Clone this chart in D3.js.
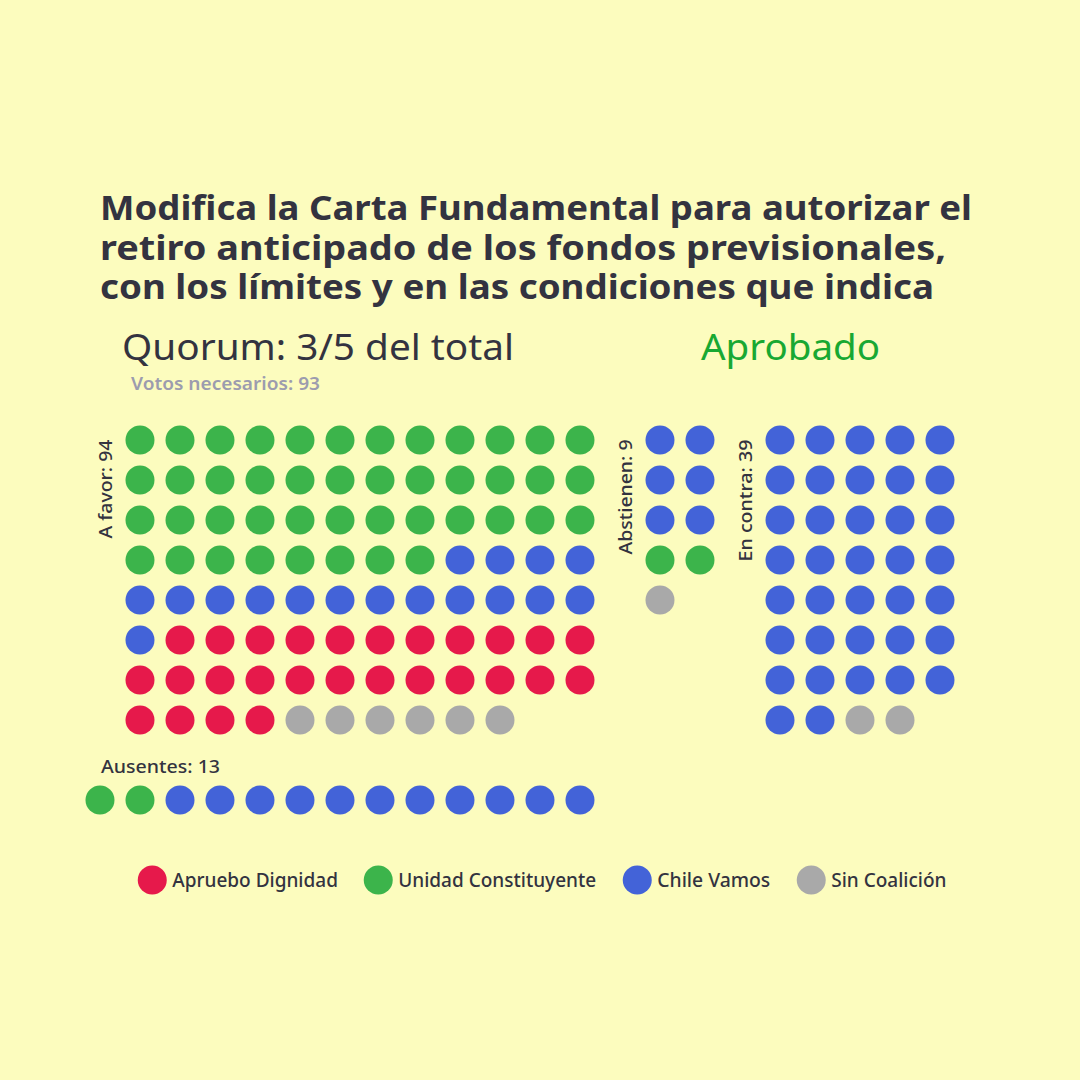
<!DOCTYPE html>
<html>
<head>
<meta charset="utf-8">
<script src="https://cdn.jsdelivr.net/npm/d3@7"></script>
<style>
  html, body { margin: 0; padding: 0; background: #fcfcbe; }
  svg { display: block; }
  text { font-family: "Noto Sans", "Open Sans", sans-serif; }
</style>
</head>
<body>
<svg id="chart" width="1080" height="1080"></svg>
<script>
// ---------------- DATA ----------------
const titleLines = [
  "Modifica la Carta Fundamental para autorizar el",
  "retiro anticipado de los fondos previsionales,",
  "con los límites y en las condiciones que indica"
];
const quorumText = "Quorum: 3/5 del total";
const resultText = "Aprobado";
const votesNeededText = "Votos necesarios: 93";

const parties = ["Apruebo Dignidad", "Unidad Constituyente", "Chile Vamos", "Sin Coalición"];
const partyColors = ["#e6194b", "#3cb44b", "#4363d8", "#a9a9a9"];

const groupNames = ["A favor", "Abstienen", "En contra", "Ausentes"];
const groupTotals = [94, 9, 39, 13];

// order of deputies within each group (party, count)
const aFavorParties = ["Unidad Constituyente", "Chile Vamos", "Apruebo Dignidad", "Sin Coalición"];
const aFavorCounts = [44, 17, 27, 6];
const abstienenParties = ["Chile Vamos", "Unidad Constituyente", "Sin Coalición"];
const abstienenCounts = [6, 2, 1];
const enContraParties = ["Chile Vamos", "Sin Coalición"];
const enContraCounts = [37, 2];
const ausentesParties = ["Unidad Constituyente", "Chile Vamos"];
const ausentesCounts = [2, 11];

// ---------------- LAYOUT ----------------
const svg = d3.select("#chart");
const W = 1080, H = 1080;
const textColor = "#333340";
const cell = 40, radius = 14.5;

// fit a text element to a target width (font substitution compensation)
function fit(sel, target) {
  const w = sel.node().getComputedTextLength();
  if (Math.abs(w - target) > 1) sel.attr("textLength", target).attr("lengthAdjust", "spacingAndGlyphs");
  return sel;
}

svg.append("rect").attr("width", W).attr("height", H).attr("fill", "#fcfcbe");

const color = d3.scaleOrdinal().domain(parties).range(partyColors);

// Title
const titleWidths = [872, 846, 834];
svg.append("g").selectAll("text").data(titleLines).join("text")
  .attr("x", 100)
  .attr("y", (d, i) => 220 + i * 39.5)
  .attr("font-size", 34)
  .attr("font-weight", 700)
  .attr("fill", textColor)
  .text(d => d)
  .each(function(d, i) { fit(d3.select(this), titleWidths[i]); });

fit(svg.append("text").attr("x", 122).attr("y", 360)
  .attr("font-size", 37).attr("font-weight", 400).attr("fill", textColor)
  .text(quorumText), 392);

fit(svg.append("text").attr("x", 701).attr("y", 360)
  .attr("font-size", 37).attr("font-weight", 400).attr("fill", "#18a832")
  .text(resultText), 179);

fit(svg.append("text").attr("x", 131).attr("y", 390)
  .attr("font-size", 17).attr("font-weight", 600).attr("fill", "#9c9cae")
  .text(votesNeededText), 189);

// Groups definition (layout only)
const groups = [
  { name: groupNames[0], total: groupTotals[0], parties: aFavorParties, counts: aFavorCounts, cols: 12, x0: 140, y0: 440, label: "vertical", lw: 99 },
  { name: groupNames[1], total: groupTotals[1], parties: abstienenParties, counts: abstienenCounts, cols: 2, x0: 660, y0: 440, label: "vertical", lw: 115 },
  { name: groupNames[2], total: groupTotals[2], parties: enContraParties, counts: enContraCounts, cols: 5, x0: 780, y0: 440, label: "vertical", lw: 122 },
  { name: groupNames[3], total: groupTotals[3], parties: ausentesParties, counts: ausentesCounts, cols: 13, x0: 100, y0: 800, label: "horizontal", lw: 119 }
];

groups.forEach(g => {
  const dots = [];
  g.parties.forEach((p, i) => { for (let k = 0; k < g.counts[i]; k++) dots.push(p); });
  const rows = Math.ceil(dots.length / g.cols);
  const x = d3.scaleLinear().domain([0, g.cols - 1]).range([g.x0, g.x0 + (g.cols - 1) * cell]);
  const y = d3.scaleLinear().domain([0, Math.max(1, rows - 1)]).range([g.y0, g.y0 + Math.max(1, rows - 1) * cell]);
  const gg = svg.append("g");
  gg.selectAll("circle").data(dots).join("circle")
    .attr("cx", (d, i) => x(i % g.cols))
    .attr("cy", (d, i) => y(Math.floor(i / g.cols)))
    .attr("r", radius)
    .attr("fill", d => color(d));

  const label = `${g.name}: ${g.total}`;
  let t;
  if (g.label === "vertical") {
    t = gg.append("text")
      .attr("transform", `translate(${g.x0 - 28},${g.y0 - 0.5}) rotate(-90)`)
      .attr("text-anchor", "end");
  } else {
    t = gg.append("text")
      .attr("x", g.x0 + 1).attr("y", g.y0 - 27);
  }
  t.attr("font-size", 18).attr("font-weight", 500).attr("fill", textColor).text(label);
  fit(t, g.lw);
});

// Legend
const legendWidths = [165, 198, 113, 116];
const legend = svg.append("g");
let cx = 0;
parties.forEach((p, i) => {
  const it = legend.append("g").attr("transform", `translate(${cx},880)`);
  it.append("circle").attr("cx", 0).attr("cy", 0).attr("r", radius).attr("fill", color(p));
  const t = it.append("text").attr("x", 20).attr("y", 6.5)
    .attr("font-size", 19).attr("font-weight", 500).attr("fill", textColor).text(p);
  fit(t, legendWidths[i]);
  cx += 20 + legendWidths[i] + 41;
});
const legendWidth = cx - 41 + radius;
legend.attr("transform", `translate(${542.5 - legendWidth / 2 + radius},0)`);
</script>
</body>
</html>
